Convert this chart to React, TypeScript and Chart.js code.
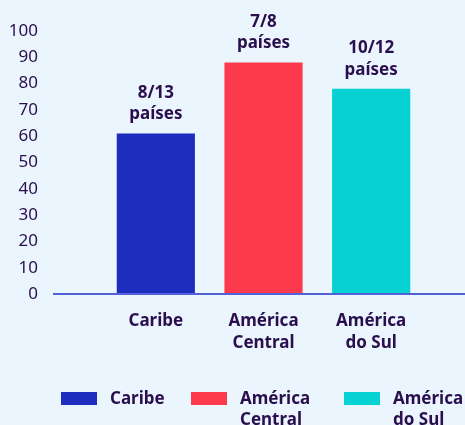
import React, { useEffect, useRef } from "react";
import { Chart, registerables } from "chart.js";

Chart.register(...registerables);

const categories: (string | string[])[] = ["Caribe", ["América", "Central"], ["América", "do Sul"]];
const legendNames: string[][] = [["Caribe"], ["América", "Central"], ["América", "do Sul"]];
const values: number[] = [61, 88, 78];
const barLabels: string[][] = [["8/13", "países"], ["7/8", "países"], ["10/12", "países"]];
const colors: string[] = ["#1F2DBE", "#FD3A4B", "#06D2D3"];
const yTicks: number[] = [0, 10, 20, 30, 40, 50, 60, 70, 80, 90, 100];

const BG = "#EBF5FD";
const TEXT = "#2A0E4E";
const AXIS = "#5261D6";
const FONT = "'Noto Sans', 'Open Sans', sans-serif";

export default function App() {
  const ref = useRef<HTMLCanvasElement | null>(null);

  useEffect(() => {
    document.body.style.margin = "0";
    document.body.style.background = BG;
    const canvas = ref.current;
    if (!canvas) return;

    const extras = {
      id: "extras",
      afterDatasetsDraw(chart: any) {
        const ctx = chart.ctx;
        const y0 = chart.scales.y.getPixelForValue(0);
        // baseline
        ctx.save();
        ctx.strokeStyle = AXIS;
        ctx.lineWidth = 2;
        ctx.beginPath();
        ctx.moveTo(53, y0);
        ctx.lineTo(chart.width, y0);
        ctx.stroke();
        // bar labels
        const meta = chart.getDatasetMeta(0);
        ctx.fillStyle = TEXT;
        ctx.font = `bold 17px ${FONT}`;
        ctx.textAlign = "center";
        ctx.textBaseline = "middle";
        meta.data.forEach((bar: any, i: number) => {
          const lines = barLabels[i];
          const n = lines.length;
          lines.forEach((ln, j) => {
            ctx.fillText(ln, bar.x, bar.y - 19 - 21.5 * (n - 1 - j));
          });
        });
        // legend
        const starts = [61 / 465, 191 / 465, 344 / 465];
        const boxY = 392;
        legendNames.forEach((names, i) => {
          const x = starts[i] * chart.width;
          ctx.fillStyle = colors[i];
          ctx.fillRect(x, boxY, 36, 13);
          ctx.fillStyle = TEXT;
          ctx.textAlign = "left";
          names.forEach((ln, j) => {
            ctx.fillText(ln, x + 49, boxY + 7 + 21.5 * j);
          });
        });
        ctx.restore();
      },
    };

    const chart = new Chart(canvas, {
      type: "bar",
      data: {
        labels: categories,
        datasets: [
          {
            data: values,
            backgroundColor: colors,
            borderWidth: 0,
            categoryPercentage: 1,
            barPercentage: 0.726,
          },
        ],
      },
      options: {
        responsive: false,
        animation: false,
        layout: { padding: { top: 31, right: 40, left: 0, bottom: 0 } },
        plugins: { legend: { display: false }, tooltip: { enabled: false } },
        scales: {
          x: {
            grid: { display: false, drawTicks: false },
            border: { display: false },
            ticks: {
              color: TEXT,
              padding: 16,
              font: { family: FONT, size: 17, weight: "bold", lineHeight: 1.3 },
              maxRotation: 0,
              autoSkip: false,
            },
            afterFit: (s: any) => {
              s.height = 131;
            },
          },
          y: {
            min: 0,
            max: 100,
            grid: { display: false, drawTicks: false },
            border: { display: false },
            afterBuildTicks: (s: any) => {
              s.ticks = yTicks.map((v) => ({ value: v }));
            },
            ticks: {
              color: TEXT,
              padding: 64,
              autoSkip: false,
              font: { family: FONT, size: 17 },
            },
            afterFit: (s: any) => {
              s.width = 102;
              s.paddingTop = 0;
              s.paddingBottom = 0;
            },
          },
        },
      },
      plugins: [extras],
    });
    return () => chart.destroy();
  }, []);

  return (
    <div style={{ width: 465, height: 425, background: BG }}>
      <canvas ref={ref} width={465} height={425} />
    </div>
  );
}
